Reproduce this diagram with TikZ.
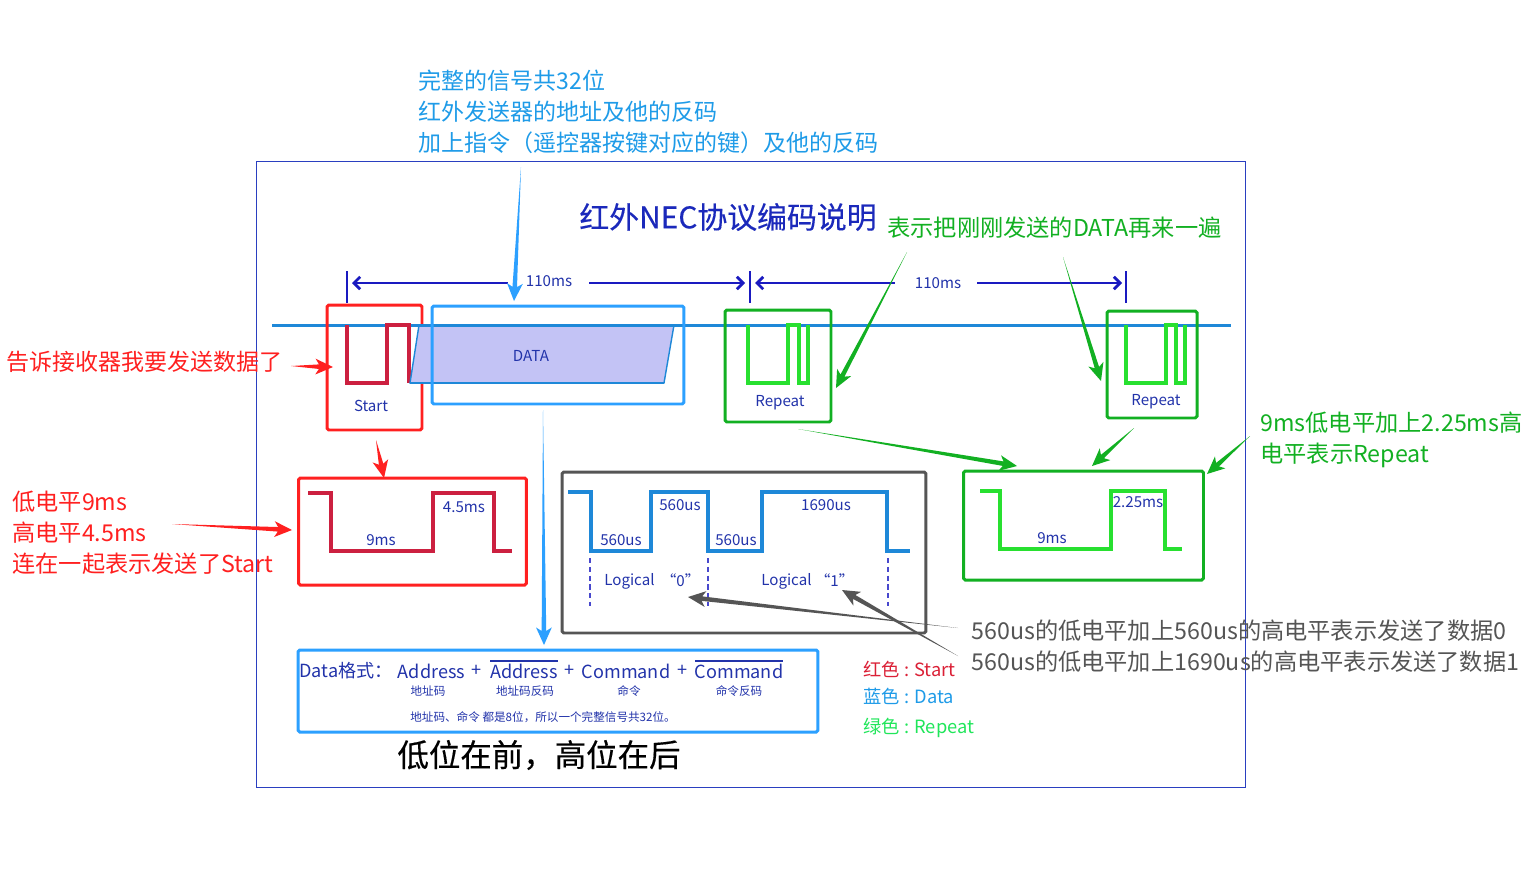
\documentclass[tikz,border=0pt]{standalone}
\usepackage{fontspec}
\setmainfont{Noto Sans CJK SC}
\newfontfamily\heavyfont[FakeBold=0.35]{Noto Sans CJK SC}
\usepackage{xcolor}
\usetikzlibrary{arrows.meta,calc}

\definecolor{framecol}{HTML}{2A3FC0}
\definecolor{inkblue}{HTML}{2233AA}
\definecolor{skyblue}{HTML}{1E9BE8}
\definecolor{boxblue}{HTML}{2CA0FF}
\definecolor{linecol}{HTML}{1E88D8}
\definecolor{dimcol}{HTML}{1A1AC0}
\definecolor{datafill}{HTML}{C3C3F5}
\definecolor{noteRed}{HTML}{FF2020}
\definecolor{sigRed}{HTML}{CC2040}
\definecolor{noteGreen}{HTML}{12B022}
\definecolor{sigGreen}{HTML}{28E030}
\definecolor{noteGray}{HTML}{555555}

% tapered call-out arrow: colour, tail, tip
\newcommand{\wedgearrow}[3]{%
    \fill[#1] (#2) -- ($(#3)!8pt!(#2)!1.3pt!90:(#3)$) -- ($(#3)!10pt!(#2)!4.5pt!90:(#3)$) -- (#3)
        -- ($(#3)!10pt!(#2)!4.5pt!-90:(#3)$) -- ($(#3)!8pt!(#2)!1.3pt!-90:(#3)$) -- cycle;}

\begin{document}
\begin{tikzpicture}[x=0.02cm, y=-0.02cm,
    box/.style={draw, line width=1.7pt, rounded corners=1pt, inner sep=0pt},
    note/.style={font=\fontsize{13.1}{17.6}\selectfont, align=left, anchor=west, inner sep=0pt},
    notewide/.style={note, font=\fontsize{13.22}{17.6}\selectfont},
    small/.style={font=\fontsize{8.6}{10}\selectfont, text=inkblue, inner sep=0pt},
    fmt/.style={font=\fontsize{10.3}{13}\selectfont, text=inkblue, inner sep=0pt},
    tiny/.style={font=\fontsize{6.6}{8}\selectfont, text=inkblue, inner sep=0pt},
    legend/.style={font=\fontsize{10.4}{12}\selectfont, anchor=west, inner sep=0pt},
    signal/.style={line width=2.1pt, miter limit=10},
    dimline/.style={dimcol, line width=1.6pt, -{Straight Barb[length=3.5pt,width=7pt]}},
    dimtick/.style={dimcol, line width=1.6pt}]
    \useasboundingbox (0,0) rectangle (1533,870);
    \fill[white] (0,0) rectangle (1533,870);

    % Outer frame
    \node[draw=framecol, line width=0.7pt, minimum width=19.78cm, minimum height=12.52cm, inner sep=0pt] (frame) at (751,474.5) {};

    % Title and top note
    \node[font=\heavyfont\fontsize{17}{20}\selectfont, text=inkblue!80!blue, inner sep=0pt] (title) at (728,217) {红外NEC协议编码说明};
    \node[note, text=skyblue] (topnote) at (418,112) {完整的信号共32位\\红外发送器的地址及他的反码\\加上指令（遥控器按键对应的键）及他的反码};
    \node[notewide, text=noteGreen] (greennote) at (887,228) {表示把刚刚发送的DATA再来一遍};

    % Idle line
    \draw[linecol, line width=1.7pt] (272,325) -- (1231,325);

    % Start frame and pulse
    \draw[sigRed, signal] (347,325) -- (347,383) -- (387,383) -- (387,325) -- (409,325) -- (409,383);
    \node[box, draw=noteRed, minimum width=1.9cm, minimum height=2.5cm] (startbox) at (374.5,367.5) {};
    \node[small] (startlabel) at (371,405.5) {Start};

    % Data block
    \filldraw[fill=datafill, draw=linecol, line width=0.8pt] (419,325) -- (674,325) -- (664,383) -- (410,383) -- cycle;
    \draw[linecol, line width=1.7pt] (419,325) -- (674,325);
    \draw[linecol, line width=1.4pt] (410,383) -- (664,383);
    \node[box, draw=boxblue, minimum width=5.04cm, minimum height=1.96cm] (databox) at (558,355) {};
    \node[small] (datalabel) at (531,356) {DATA};

    % Repeat frames
    \draw[sigGreen, signal] (748,325) -- (748,383) -- (788,383) -- (788,325) -- (799,325) -- (799,383) -- (808,383) -- (808,325);
    \node[box, draw=noteGreen, minimum width=2.12cm, minimum height=2.24cm] (repeatboxa) at (778,366) {};
    \node[small] (repeatlabela) at (780,403) {Repeat};
    \draw[sigGreen, signal] (1126,325) -- (1126,383) -- (1166,383) -- (1166,325) -- (1176,325) -- (1176,383) -- (1185,383) -- (1185,325);
    \node[box, draw=noteGreen, minimum width=1.8cm, minimum height=2.14cm] (repeatboxb) at (1152,364.5) {};
    \node[small] (repeatlabelb) at (1156,402) {Repeat};

    % 110ms spans
    \draw[dimtick] (347,271) -- (347,303);
    \draw[dimtick] (750,271) -- (750,303);
    \draw[dimtick] (1126,271) -- (1126,303);
    \node[small] (spana) at (549,281) {110ms};
    \node[small] (spanb) at (938,283) {110ms};
    \coordinate (spanaL) at (352,283);
    \coordinate (spanaR) at (745,283);
    \coordinate (spanbL) at (755,283);
    \coordinate (spanbR) at (1122,283);
    \draw[dimline] ($(spana.west)+(-18,2)$) -- (spanaL);
    \draw[dimline] ($(spana.east)+(17,2)$) -- (spanaR);
    \draw[dimline] ($(spanb.west)+(-20,0)$) -- (spanbL);
    \draw[dimline] ($(spanb.east)+(16,0)$) -- (spanbR);

    % Start detail
    \node[box, draw=noteRed, minimum width=4.56cm, minimum height=2.14cm] (startdetail) at (412.5,531.5) {};
    \draw[sigRed, signal] (308,493) -- (331,493) -- (331,551) -- (433,551) -- (433,493) -- (494,493) -- (494,551) -- (512,551);
    \node[small] (ninems) at (381,540) {9ms};
    \node[small] (fourms) at (464,507) {4.5ms};

    % Logical 0 and 1
    \node[box, draw=noteGray, minimum width=7.28cm, minimum height=3.22cm] (logicbox) at (744,552.5) {};
    \draw[linecol, signal] (568,492) -- (591,492) -- (591,551) -- (651,551) -- (651,492) -- (708,492) -- (708,551) -- (762,551) -- (762,492) -- (887,492) -- (887,551) -- (910,551);
    \node[small] (lowa) at (621,540) {560us};
    \node[small] (higha) at (680,505) {560us};
    \node[small] (lowb) at (736,540) {560us};
    \node[small] (highb) at (826,505) {1690us};
    \node[small, anchor=west] (logica) at (604,581) {Logical};
    \node[small, anchor=west] (zeroa) at (661,580) {“0”};
    \node[small, anchor=west] (logicb) at (761,581) {Logical};
    \node[small, anchor=west] (oneb) at (815,580) {“1”};
    \foreach \xpos in {590,708,888}
        \draw[dimcol!80, densely dashed, line width=1pt] (\xpos,558) -- (\xpos,606);

    % Repeat detail
    \node[box, draw=noteGreen, minimum width=4.8cm, minimum height=2.18cm] (repeatdetail) at (1083.5,525.5) {};
    \draw[sigGreen, signal] (980,491) -- (1000,491) -- (1000,549) -- (1111,549) -- (1111,491) -- (1165,491) -- (1165,549) -- (1182,549);
    \node[small] (ninemsb) at (1052,538) {9ms};
    \node[small] (twoms) at (1138,502) {2.25ms};

    % Data format
    \node[box, draw=boxblue, minimum width=10.4cm, minimum height=1.64cm] (fmtbox) at (558,691) {};
    \node[fmt, anchor=west] (fmthead) at (299,671) {Data格式：};
    \node[fmt] (addr) at (431.5,671) {Address};
    \node[fmt] at (477,671) (plusa) {+};
    \node[fmt] (addrinv) at (524,671) {Address};
    \node[fmt] at (570,671) (plusb) {+};
    \node[fmt] (cmd) at (626,671) {Command};
    \node[fmt] at (683,671) (plusc) {+};
    \node[fmt] (cmdinv) at (739,671) {Command};
    \draw[inkblue, line width=0.8pt] (490,661) -- (558,661);
    \draw[inkblue, line width=0.8pt] (695,661) -- (783,661);
    \node[tiny] (addrcn) at (428,691) {地址码};
    \node[tiny] (addrinvcn) at (525,691) {地址码反码};
    \node[tiny] (cmdcn) at (629,691) {命令};
    \node[tiny] (cmdinvcn) at (739,691) {命令反码};
    \node[tiny, anchor=west] (fmtnote) at (410,717) {地址码、命令 都是8位，所以一个完整信号共32位。};
    \node[font=\heavyfont\fontsize{17.9}{20}\selectfont, inner sep=0pt] (orderlabel) at (539,755) {低位在前，高位在后};

    % Colour legend
    \node[legend, text=sigRed!70!noteRed] (legenda) at (863,669) {红色 : Start};
    \node[legend, text=skyblue] (legendb) at (863,696) {蓝色 : Data};
    \node[legend, text=sigGreen!80!cyan] (legendc) at (863,728) {绿色 : Repeat};

    % Side notes
    \node[note, text=noteRed] (startnote) at (6,362) {告诉接收器我要发送数据了};
    \node[notewide, text=noteRed] (levelnote) at (12,533) {低电平9ms\\高电平4.5ms\\连在一起表示发送了Start};
    \node[notewide, text=noteGreen] (repeatnote) at (1260,440) {9ms低电平加上2.25ms高\\电平表示Repeat};
    \node[notewide, text=noteGray] (bitnote) at (971,646) {560us的低电平加上560us的高电平表示发送了数据0\\560us的低电平加上1690us的高电平表示发送了数据1};

    % Call-out arrows
    \coordinate (topfrom) at (521,167);
    \coordinate (topto) at (514,301);
    \coordinate (fmtfrom) at (543,410);
    \coordinate (fmtto) at (544,645);
    \wedgearrow{boxblue}{topfrom}{topto}
    \wedgearrow{boxblue}{fmtfrom}{fmtto}
    \coordinate (startfrom) at (291,366);
    \coordinate (startto) at (333,367);
    \coordinate (detailfrom) at (376,440);
    \coordinate (detailto) at (384,478);
    \coordinate (levelfrom) at (172,524);
    \coordinate (levelto) at (292,530);
    \wedgearrow{noteRed}{startfrom}{startto}
    \wedgearrow{noteRed}{detailfrom}{detailto}
    \wedgearrow{noteRed}{levelfrom}{levelto}
    \coordinate (greena) at (907,252);
    \coordinate (greenb) at (836,388);
    \coordinate (greenc) at (1063,257);
    \coordinate (greend) at (1101,381);
    \coordinate (greene) at (798,429);
    \coordinate (greenf) at (1017,466);
    \coordinate (greeng) at (1134,428);
    \coordinate (greenh) at (1092,466);
    \coordinate (greeni) at (1250,436);
    \coordinate (greenj) at (1207,474);
    \wedgearrow{noteGreen}{greena}{greenb}
    \wedgearrow{noteGreen}{greenc}{greend}
    \wedgearrow{noteGreen}{greene}{greenf}
    \wedgearrow{noteGreen}{greeng}{greenh}
    \wedgearrow{noteGreen}{greeni}{greenj}
    \coordinate (graya) at (958,628);
    \coordinate (grayb) at (688,597);
    \coordinate (grayc) at (958,656);
    \coordinate (grayd) at (842,590);
    \wedgearrow{noteGray}{graya}{grayb}
    \wedgearrow{noteGray}{grayc}{grayd}
\end{tikzpicture}
\end{document}
